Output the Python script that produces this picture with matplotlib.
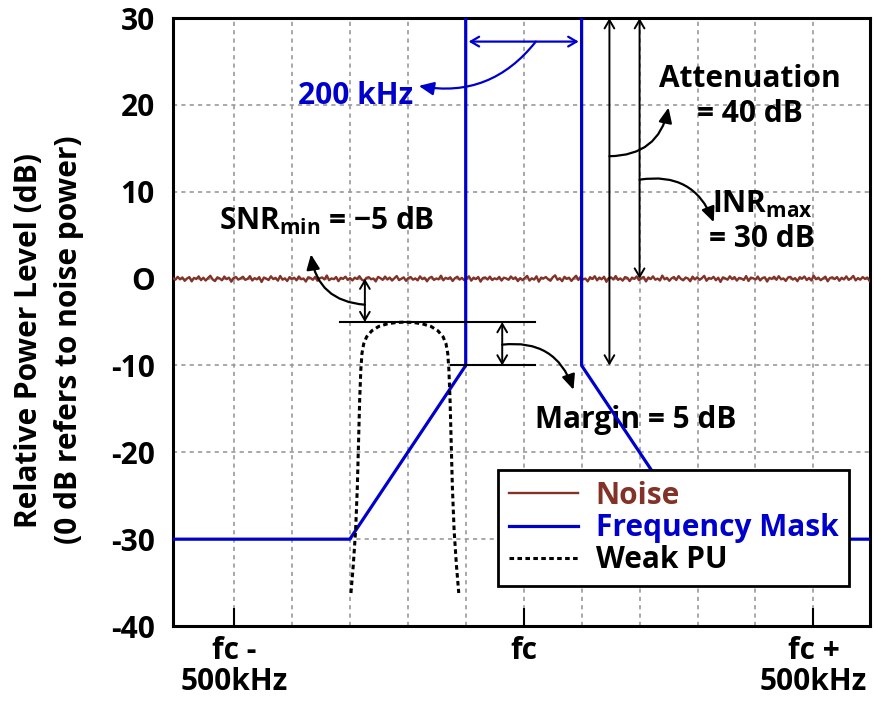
import numpy as np
import matplotlib
matplotlib.use("Agg")
import matplotlib.pyplot as plt

plt.rcParams['font.family'] = ['Open Sans', 'DejaVu Sans']
plt.rcParams['font.weight'] = 'bold'
plt.rcParams['mathtext.fontset'] = 'custom'
plt.rcParams['mathtext.rm'] = 'Open Sans:bold'
plt.rcParams['mathtext.bf'] = 'Open Sans:bold'

# frequency offsets in kHz relative to fc
mask_f = [-605, -300, -100, -100, 100, 100, 300, 597]
mask_db = [-30, -30, -10, 35, 35, -10, -30, -30]

pu_f = [-298, -294, -290, -287, -285, -283, -281, -279, -276, -271, -262, -250, -235, -220,
        -205, -190, -175, -160, -148, -139, -134, -131, -129, -127, -125, -123, -120, -116, -112]
pu_db = [-36.2, -33, -29, -24, -19, -14, -10.5, -8.6, -7.5, -6.7, -6.0, -5.5, -5.2, -5.05,
         -5.0, -5.05, -5.2, -5.5, -6.0, -6.7, -7.5, -8.6, -10.5, -14, -19, -24, -29, -33, -36.2]

noise_db = [0.05, -0.12, 0.21, -0.08, 0.14, -0.25, 0.02, 0.18, -0.31, 0.09,
            -0.04, 0.26, -0.17, 0.11, -0.22, 0.07, 0.33, -0.09, -0.28, 0.15,
            0.03, -0.19, 0.24, -0.06, 0.12, -0.35, 0.08, 0.19, -0.11, 0.04,
            0.22, -0.14, -0.02, 0.29, -0.21, 0.06, -0.08, 0.17, -0.38, 0.13,
            0.01, -0.16, 0.27, -0.05, 0.09, -0.23, 0.31, -0.12, 0.04, -0.27,
            0.18, -0.03, 0.11, -0.19, 0.25, -0.07, 0.02, -0.33, 0.16, 0.08,
            -0.13, 0.21, -0.24, 0.05, 0.14, -0.09, 0.36, -0.18, 0.03, -0.06,
            0.19, -0.29, 0.1, -0.02, 0.23, -0.15, 0.07, -0.21, 0.12, -0.04,
            0.28, -0.11, -0.26, 0.09, 0.17, -0.07, 0.02, -0.32, 0.2, 0.06,
            -0.14, 0.24, -0.1, 0.13, -0.22, 0.04, 0.3, -0.17, -0.01, 0.15,
            -0.25, 0.08, 0.18, -0.12, 0.03, -0.2, 0.26, -0.06, 0.11, -0.3,
            0.07, 0.21, -0.15, 0.02, -0.08, 0.34, -0.19, 0.1, -0.03, 0.16,
            -0.27, 0.05, 0.22, -0.11, 0.09, -0.18, 0.01, 0.27, -0.23, 0.12,
            -0.05, 0.19, -0.34, 0.08, 0.14, -0.1, 0.23, -0.16, 0.04, -0.07,
            0.2, -0.22, 0.11, 0.03, -0.13, 0.25, -0.04, 0.15, -0.28, 0.06,
            -0.18, 0.09, 0.31, -0.22, 0.04, -0.11, 0.27, -0.35, 0.12, 0.02,
            0.19, -0.07, -0.24, 0.16, 0.38, -0.13, 0.05, -0.29, 0.21, -0.01,
            0.11, -0.26, 0.07, 0.33, -0.15, 0.24, -0.09, 0.01, -0.31, 0.17,
            -0.04, 0.28, -0.19, 0.13, -0.07, 0.22, -0.36, 0.06, 0.15, -0.1,
            0.3, -0.14, 0.03, -0.23, 0.18, 0.09, -0.28, 0.12, -0.02, 0.25,
            -0.17, 0.07, 0.2, -0.32, 0.14, -0.05, 0.26, -0.12, 0.01, -0.21,
            0.35, -0.08, 0.1, -0.25, 0.04, 0.19, -0.16, 0.29, -0.03, -0.19,
            0.13, 0.02, -0.3, 0.23, -0.09, 0.16, -0.14, 0.06, 0.32, -0.24,
            0.08, -0.02, 0.21, -0.18, 0.11, -0.37, 0.15, 0.04, -0.12, 0.27,
            -0.06, 0.18, -0.22, 0.09, 0.01, -0.15, 0.3, -0.27, 0.12, 0.05,
            -0.1, 0.24, -0.2, 0.07, 0.16, -0.33, 0.1, -0.04, 0.22, -0.13,
            0.28, -0.08, 0.03, -0.26, 0.14, 0.2, -0.11, 0.06, -0.29, 0.17,
            -0.01, 0.25, -0.16, 0.09, -0.21, 0.34, -0.07, 0.12, -0.18, 0.02,
            0.23, -0.3, 0.08, 0.15, -0.05, 0.19, -0.24, 0.11, -0.09, 0.26,
            -0.14, 0.04, 0.31, -0.2, 0.07, -0.12, 0.18, -0.03, 0.13, -0.27]

xtick_pos = [-500, 0, 500]
xtick_labels = ['fc -\n500kHz', 'fc', 'fc +\n500kHz']
ytick_pos = [-40, -30, -20, -10, 0, 10, 20, 30]
ytick_labels = ['-40', '-30', '-20', '-10', 'O', '10', '20', '30']

BROWN = '#833228'
BLUE = '#0000CC'
FS = 21.5

fig = plt.figure(figsize=(8.74, 7.06), dpi=100)
ax = fig.add_axes([0.198, 0.1133, 0.797, 0.861])

noise_f = np.linspace(-605, 597, len(noise_db))
ax.plot(noise_f, noise_db, color=BROWN, lw=1.7, label='Noise', zorder=3)
ax.plot(mask_f, mask_db, color=BLUE, lw=2.3, label='Frequency Mask', zorder=4)
ax.plot(pu_f, pu_db, color='black', lw=2.2, dashes=(1.5, 1.1), label='Weak PU', zorder=4)

ax.set_xlim(-605, 597)
ax.set_ylim(-40, 30)
ax.set_xticks(xtick_pos)
ax.set_xticklabels(xtick_labels, fontsize=FS, fontweight='bold', linespacing=1.05)
ax.set_xticks(np.arange(-500, 501, 100), minor=True)
ax.set_yticks(ytick_pos)
ax.set_yticklabels(ytick_labels, fontsize=FS, fontweight='bold')
ax.tick_params(axis='x', which='major', direction='in', length=13, width=1.5, pad=7)
ax.tick_params(axis='x', which='minor', length=0)
ax.tick_params(axis='y', length=0, pad=13)
ax.grid(True, which='both', color='#999999', ls=(0, (2.5, 2.5)), lw=1.2)
for s in ax.spines.values():
    s.set_linewidth(2.2)

fig.text(49 / 874, 1 - 340 / 706, 'Relative Power Level (dB)\n(0 dB refers to noise power)',
         rotation=90, fontsize=21.5, fontweight='bold', ha='center', va='center',
         multialignment='center', linespacing=1.45)

dbl = dict(arrowstyle='<->,head_length=0.6,head_width=0.35', color='black', lw=1.4,
           shrinkA=0, shrinkB=0)
crv = dict(arrowstyle='-|>,head_length=0.9,head_width=0.4', color='black', lw=1.6,
           shrinkA=0, shrinkB=0)

# reference levels
ax.plot([-317, 19], [-5, -5], color='black', lw=1.5, zorder=5)
ax.plot([-126, 19], [-10, -10], color='black', lw=1.5, zorder=5)

# margin
ax.annotate('', xy=(-37, -10), xytext=(-37, -5), arrowprops=dbl)
ax.annotate('', xy=(86, -12.8), xytext=(-37, -7.6),
            arrowprops=dict(crv, connectionstyle='arc3,rad=-0.4'))
ax.text(193, -16.3, 'Margin = 5 dB', fontsize=FS, fontweight='bold', ha='center', va='center')

# SNR
ax.annotate('', xy=(-274, -5), xytext=(-274, 0), arrowprops=dbl)
ax.annotate('', xy=(-367, 2.8), xytext=(-274, -3),
            arrowprops=dict(crv, connectionstyle='arc3,rad=-0.4'))
ax.text(-340, 6.6, 'SNR$_{\\mathrm{min}}$ = \u22125 dB', fontsize=FS, fontweight='bold',
        ha='center', va='center')

# 200 kHz bandwidth
ax.annotate('', xy=(95, 27.3), xytext=(-95, 27.3),
            arrowprops=dict(dbl, color=BLUE, lw=1.6))
ax.annotate('', xy=(-181, 22.2), xytext=(21, 27.3),
            arrowprops=dict(crv, color=BLUE, connectionstyle='arc3,rad=-0.3'))
ax.text(-290, 21.0, '200 kHz', fontsize=FS, fontweight='bold', color=BLUE,
        ha='center', va='center')

# attenuation
ax.annotate('', xy=(148, 30), xytext=(148, -10), arrowprops=dbl)
ax.annotate('', xy=(250, 19.7), xytext=(148, 14.1),
            arrowprops=dict(crv, connectionstyle='arc3,rad=0.4'))
ax.text(391, 21.0, 'Attenuation\n= 40 dB', fontsize=FS, fontweight='bold',
        ha='center', va='center', linespacing=1.2)

# INR
ax.annotate('', xy=(200, 30), xytext=(200, 0), arrowprops=dbl)
ax.annotate('', xy=(328, 6.5), xytext=(200, 11.4),
            arrowprops=dict(crv, connectionstyle='arc3,rad=-0.4'))
ax.text(412, 6.6, 'INR$_{\\mathrm{max}}$\n= 30 dB', fontsize=FS, fontweight='bold',
        ha='center', va='center', linespacing=1.2)

leg = ax.legend(loc='lower right', bbox_to_anchor=(0.97, 0.066), borderaxespad=0,
                frameon=True, fancybox=False, edgecolor='black', framealpha=1,
                handlelength=2.3, borderpad=0.35, labelspacing=0.08, handletextpad=0.6,
                prop={'weight': 'bold', 'size': FS})
leg.get_frame().set_linewidth(2)
for t, c in zip(leg.get_texts(), [BROWN, BLUE, 'black']):
    t.set_color(c)
leg.set_zorder(10)

fig.savefig('out.png', dpi=100)
